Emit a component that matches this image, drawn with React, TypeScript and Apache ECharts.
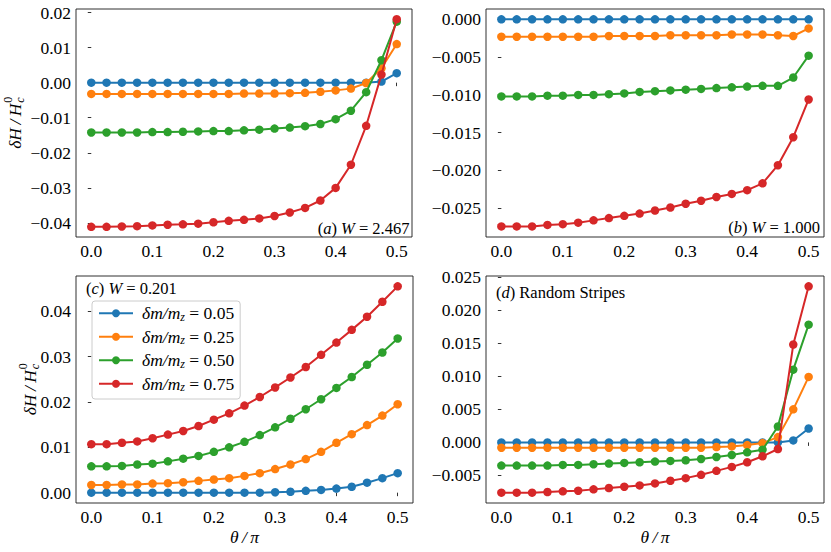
import React, { useEffect, useRef } from "react";
import * as echarts from "echarts";

const FONT = "'Liberation Serif', 'DejaVu Serif', 'Times New Roman', serif";
const COLORS = ["#1f77b4", "#ff7f0e", "#2ca02c", "#d62728"];

const theta = [0, 0.025, 0.05, 0.075, 0.1, 0.125, 0.15, 0.175, 0.2, 0.225, 0.25, 0.275, 0.3, 0.325, 0.35, 0.375, 0.4, 0.425, 0.45, 0.475, 0.5];
const dmValues = ["0.05", "0.25", "0.50", "0.75"];
const seriesNames = dmValues.map((v) => "δm/mz = " + v);

// Panel (a) W = 2.467
const a005 = [0, 0, 0, 0, 0, 0, 0, 0, 0, 0, 0, 0, 0, 0, 0, 0, 0, 0, 0.0, 0.0003, 0.0027];
const a025 = [-0.0032, -0.0032, -0.0032, -0.0032, -0.0032, -0.0032, -0.0032, -0.0032, -0.0032, -0.0032, -0.0031, -0.0031, -0.0031, -0.003, -0.0029, -0.0026, -0.0022, -0.0017, -0.0001, 0.0041, 0.011];
const a050 = [-0.0142, -0.0142, -0.0142, -0.0142, -0.0141, -0.0141, -0.014, -0.0139, -0.0138, -0.0138, -0.0136, -0.0134, -0.0131, -0.0128, -0.0124, -0.0118, -0.0104, -0.008, -0.0027, 0.0064, 0.0174];
const a075 = [-0.0411, -0.0411, -0.041, -0.0409, -0.0407, -0.0405, -0.0404, -0.0402, -0.0398, -0.0394, -0.0391, -0.0387, -0.038, -0.037, -0.0357, -0.0336, -0.03, -0.0234, -0.0123, 0.0023, 0.0181];

// Panel (b) W = 1.000
const b005 = [0, 0, 0, 0, 0, 0, 0, 0, 0, 0, 0, 0, 0, 0, 0, 0, 0, 0, 0, 0, 0];
const b025 = [-0.0023, -0.0023, -0.0023, -0.0023, -0.0023, -0.0023, -0.0023, -0.0022, -0.0022, -0.0022, -0.0022, -0.0021, -0.0021, -0.0021, -0.0021, -0.002, -0.002, -0.002, -0.0021, -0.0022, -0.0012];
const b050 = [-0.0102, -0.0102, -0.0102, -0.0101, -0.0101, -0.01, -0.01, -0.0099, -0.0098, -0.0096, -0.0095, -0.0094, -0.0093, -0.0092, -0.0091, -0.009, -0.0089, -0.0088, -0.0088, -0.0077, -0.0048];
const b075 = [-0.0274, -0.0274, -0.0274, -0.0272, -0.0271, -0.0269, -0.0266, -0.0263, -0.026, -0.0257, -0.0253, -0.0249, -0.0244, -0.024, -0.0235, -0.0231, -0.0226, -0.0217, -0.0193, -0.0156, -0.0106];

// Panel (c) W = 0.201
const c005 = [0, 0, 0, 0, 0, 0, 0, 0, 0, 0, 0, 0, 0.0001, 0.0002, 0.0004, 0.0006, 0.0009, 0.0013, 0.0022, 0.0032, 0.0043];
const c025 = [0.0017, 0.0017, 0.0018, 0.0018, 0.002, 0.0021, 0.0023, 0.0026, 0.0029, 0.0032, 0.0037, 0.0043, 0.0052, 0.0062, 0.0074, 0.009, 0.011, 0.0129, 0.0149, 0.017, 0.0195];
const c050 = [0.0058, 0.0058, 0.0059, 0.0062, 0.0064, 0.0069, 0.0075, 0.0081, 0.009, 0.01, 0.0112, 0.0127, 0.0144, 0.0163, 0.0184, 0.0206, 0.0231, 0.0255, 0.0282, 0.0309, 0.034];
const c075 = [0.0107, 0.0107, 0.011, 0.0113, 0.012, 0.0128, 0.0136, 0.0147, 0.0161, 0.0175, 0.0192, 0.0211, 0.0232, 0.0254, 0.0277, 0.0304, 0.0331, 0.0359, 0.0388, 0.0421, 0.0455];

// Panel (d) Random Stripes
const d005 = [0, 0, 0, 0, 0, 0, 0, 0, 0, 0, 0, 0, 0, 0, 0, 0, 0, 0, 0, 0.0003, 0.0021];
const d025 = [-0.0008, -0.0008, -0.0008, -0.0008, -0.0008, -0.0008, -0.0008, -0.0008, -0.0008, -0.0008, -0.0008, -0.0008, -0.0008, -0.0008, -0.0007, -0.0006, -0.0004, -0.0001, 0.0008, 0.005, 0.0099];
const d050 = [-0.0035, -0.0035, -0.0035, -0.0035, -0.0034, -0.0034, -0.0033, -0.0032, -0.0031, -0.003, -0.0029, -0.0028, -0.0027, -0.0025, -0.0022, -0.0019, -0.0015, -0.0011, 0.0024, 0.011, 0.0178];
const d075 = [-0.0076, -0.0076, -0.0076, -0.0075, -0.0074, -0.0073, -0.0071, -0.0069, -0.0067, -0.0065, -0.0062, -0.0058, -0.0054, -0.0049, -0.0043, -0.0037, -0.003, -0.0021, -0.001, 0.0148, 0.0236];

// tick labels
const xTicks = [0, 0.1, 0.2, 0.3, 0.4, 0.5];
const yTicksA = [-0.04, -0.03, -0.02, -0.01, 0, 0.01, 0.02];
const yTicksB = [-0.025, -0.02, -0.015, -0.01, -0.005, 0];
const yTicksC = [0, 0.01, 0.02, 0.03, 0.04];
const yTicksD = [-0.005, 0, 0.005, 0.01, 0.015, 0.02, 0.025];

const panelLabels = [
  { letter: "a", rest: "W", value: " = 2.467" },
  { letter: "b", rest: "W", value: " = 1.000" },
  { letter: "c", rest: "W", value: " = 0.201" },
  { letter: "d", rest: "", value: "Random Stripes" },
];

const fmt = (d: number) => (v: number) =>
  v < -1e-12 ? "\u2212" + Math.abs(v).toFixed(d) : Math.abs(v).toFixed(d);

const TICK_FS = 17.5;

export default function App() {
  const ref = useRef<HTMLDivElement>(null);
  useEffect(() => {
    if (!ref.current) return;
    const chart = echarts.init(ref.current, undefined, { renderer: "svg" });

    const panels = [
      { grid: { left: 76, top: 9, width: 336, height: 228 }, data: [a005, a025, a050, a075], yMin: -0.044, yMax: 0.021, ticks: yTicksA, dec: 2, xName: false },
      { grid: { left: 486, top: 9, width: 338, height: 228 }, data: [b005, b025, b050, b075], yMin: -0.0288, yMax: 0.00137, ticks: yTicksB, dec: 3, xName: false },
      { grid: { left: 76, top: 276, width: 337, height: 227 }, data: [c005, c025, c050, c075], yMin: -0.00228, yMax: 0.04778, ticks: yTicksC, dec: 2, xName: true },
      { grid: { left: 486, top: 276, width: 338, height: 227 }, data: [d005, d025, d050, d075], yMin: -0.00916, yMax: 0.02516, ticks: yTicksD, dec: 3, xName: true },
    ];

    const tickStyle = { show: true, length: 3.5, lineStyle: { color: "#000", width: 0.8 } };

    const grids = panels.map((p) => ({
      ...p.grid,
      show: true,
      borderColor: "#1a1a1a",
      borderWidth: 0.9,
      backgroundColor: "transparent",
      containLabel: false,
    }));

    const xAxes = panels.map((p, i) => ({
      type: "value",
      gridIndex: i,
      min: -0.025,
      max: 0.525,
      axisLine: { show: false },
      splitLine: { show: false },
      axisTick: { ...tickStyle, customValues: xTicks },
      axisLabel: {
        customValues: xTicks,
        formatter: fmt(1),
        fontFamily: FONT,
        fontSize: TICK_FS,
        color: "#000",
        margin: 5,
      },
      name: p.xName ? "θ\u2009/\u2009π" : "",
      nameLocation: "middle",
      nameGap: 25,
      nameTextStyle: { fontFamily: FONT, fontSize: 17.5, fontStyle: "italic", color: "#000" },
    }));

    const yAxes = panels.map((p, i) => ({
      type: "value",
      gridIndex: i,
      min: p.yMin,
      max: p.yMax,
      axisLine: { show: false },
      splitLine: { show: false },
      axisTick: { ...tickStyle, customValues: p.ticks },
      axisLabel: {
        customValues: p.ticks,
        formatter: fmt(p.dec),
        fontFamily: FONT,
        fontSize: TICK_FS,
        color: "#000",
        margin: 5,
      },
    }));

    const series: any[] = [];
    panels.forEach((p, i) => {
      p.data.forEach((arr, k) => {
        series.push({
          type: "line",
          name: seriesNames[k],
          xAxisIndex: i,
          yAxisIndex: i,
          data: theta.map((t, j) => [t, arr[j]]),
          symbol: "circle",
          symbolSize: 8.5,
          showSymbol: true,
          color: COLORS[k],
          lineStyle: { width: 2, color: COLORS[k] },
          itemStyle: { color: COLORS[k] },
          emphasis: { disabled: true },
          silent: true,
          z: 2 + k,
        });
      });
    });

    const ctx = document.createElement("canvas").getContext("2d")!;
    const yLabel = (cx: number, cy: number) => {
      const main = "δH\u2009/\u2009H";
      ctx.font = `italic 17.5px ${FONT}`;
      const w1 = ctx.measureText(main).width;
      ctx.font = `italic 12px ${FONT}`;
      const w2 = ctx.measureText("c").width;
      const total = w1 + w2 + 1;
      const x0 = -total / 2;
      return {
        type: "group",
        x: cx,
        y: cy,
        rotation: Math.PI / 2,
        children: [
          { type: "text", x: x0, y: 0, style: { text: main, fontFamily: FONT, fontSize: 17.5, fontStyle: "italic", fill: "#000", align: "left", verticalAlign: "middle" } },
          { type: "text", x: x0 + w1 + 0.8, y: 5, style: { text: "c", fontFamily: FONT, fontSize: 12, fontStyle: "italic", fill: "#000", align: "left", verticalAlign: "middle" } },
          { type: "text", x: x0 + w1 + 0.8, y: -7, style: { text: "0", fontFamily: FONT, fontSize: 12, fill: "#000", align: "left", verticalAlign: "middle" } },
        ],
      };
    };

    const rich = {
      n: { fontFamily: FONT, fontSize: 16.5, color: "#000" },
      i: { fontFamily: FONT, fontSize: 16.5, fontStyle: "italic", color: "#000" },
    };
    const labelText = (l: { letter: string; rest: string; value: string }) =>
      `{n|(}{i|${l.letter}}{n|) }` + (l.rest ? `{i|${l.rest}}` : "") + `{n|${l.value}}`;

    const panelText = (idx: number, x: number, y: number, align: string) => ({
      type: "text",
      x,
      y,
      z: 100,
      style: { text: labelText(panelLabels[idx]), rich, fill: "#000", fontFamily: FONT, fontSize: 16.5, align, verticalAlign: "middle" },
    });

    chart.setOption({
      animation: false,
      grid: grids,
      xAxis: xAxes,
      yAxis: yAxes,
      series,
      legend: {
        data: seriesNames,
        orient: "vertical",
        left: 92,
        top: 301,
        itemWidth: 34,
        itemHeight: 10,
        itemGap: 5,
        padding: [3, 6, 6, 6],
        backgroundColor: "rgba(255,255,255,0.8)",
        borderColor: "#cccccc",
        borderWidth: 1,
        borderRadius: 3,
        selectedMode: false,
        formatter: (name: string) => {
          const k = seriesNames.indexOf(name);
          return `{i|δm/m}{s|z}{n| = ${dmValues[k]}}`;
        },
        textStyle: {
          fontFamily: FONT,
          fontSize: 17.5,
          color: "#000",
          lineHeight: 18.5,
          rich: {
            i: { fontFamily: FONT, fontSize: 17.5, fontStyle: "italic", color: "#000", lineHeight: 18.5, padding: [0, 0, 0, 4] },
            s: { fontFamily: FONT, fontSize: 12, fontStyle: "italic", color: "#000", lineHeight: 18.5, verticalAlign: "bottom" },
            n: { fontFamily: FONT, fontSize: 17.5, color: "#000", lineHeight: 18.5 },
          },
        },
      },
      graphic: [
        yLabel(15, 123),
        yLabel(30, 389.5),
        panelText(0, 409.5, 228, "right"),
        panelText(1, 820, 227, "right"),
        panelText(2, 86, 288.5, "left"),
        panelText(3, 496, 292, "left"),
      ],
    });

    return () => chart.dispose();
  }, []);

  return <div ref={ref} style={{ position: "absolute", left: 0, top: 0, width: 831, height: 552 }} />;
}
